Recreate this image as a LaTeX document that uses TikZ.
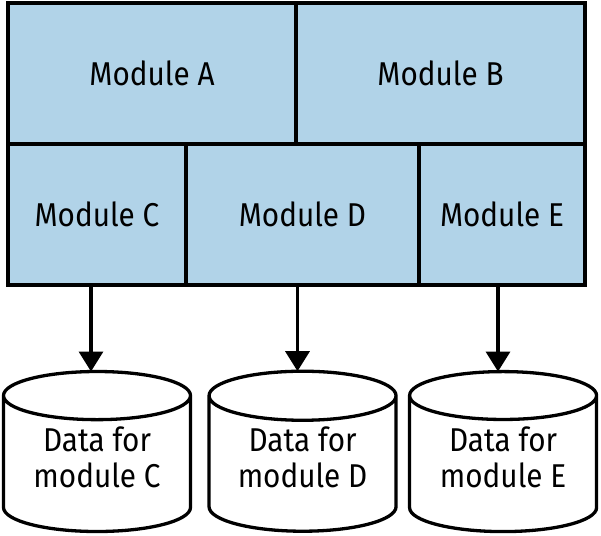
\documentclass[tikz,border=0pt]{standalone}
\usepackage{fontspec}
\setmainfont{Fira Sans}[FakeStretch=0.9]
\usetikzlibrary{positioning,shapes.geometric,arrows.meta}
\definecolor{modblue}{RGB}{177,211,232}
\tikzset{
	module/.style={draw, fill=modblue, line width=3.3pt, outer sep=0pt, inner sep=0pt,
		font=\fontsize{33}{36}\selectfont, minimum height=141pt},
	store/.style={draw, cylinder, shape border rotate=90, aspect=0.36, line width=3.3pt,
		outer sep=0pt, minimum width=187pt, minimum height=160pt, align=center,
		text depth=20pt, font=\fontsize{33}{36}\selectfont},
	link/.style={line width=3.3pt, -{Triangle[width=24pt,length=20pt]}},
}
\begin{document}
\begin{tikzpicture}[x=1pt,y=-1pt]
				\useasboundingbox (0,0) rectangle (601,535);
				\node[module, minimum width=288pt, anchor=north west] (modA) at (8,3) {Module A};
				\node[module, minimum width=289pt, right=0pt of modA] (modB) {Module B};
				\node[module, minimum width=178pt, anchor=north west] (modC) at (modA.south west) {Module C};
				\node[module, minimum width=233pt, right=0pt of modC] (modD) {Module D};
				\node[module, minimum width=166pt, right=0pt of modD] (modE) {Module E};
				
				\node[store, anchor=shape center] (dbC) at (97,451.5) {Data for\\module C};
				\node[store, right=18.5pt of dbC] (dbD) {Data for\\module D};
				\node[store, right=13.5pt of dbD] (dbE) {Data for\\module E};
				
				\draw[link] ([xshift=-6pt]modC.south) -- ([xshift=-6pt]modC.south |- dbC.north);
				\draw[link] ([xshift=-5pt]modD.south) -- ([xshift=-5pt]modD.south |- dbD.north);
				\draw[link] ([xshift=-4pt]modE.south) -- ([xshift=-4pt]modE.south |- dbE.north);
\end{tikzpicture}
\end{document}
